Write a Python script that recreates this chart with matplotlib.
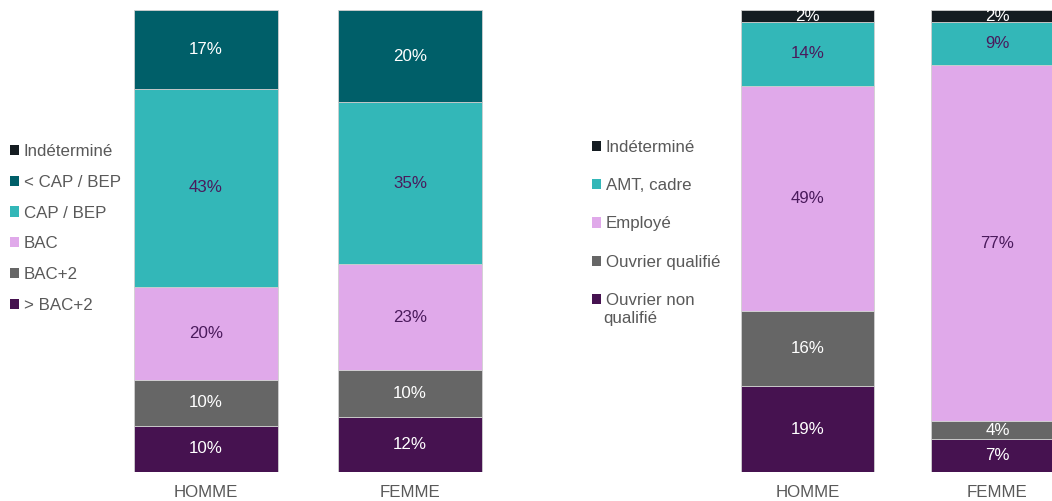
import matplotlib
matplotlib.use("Agg")
import matplotlib.pyplot as plt
from matplotlib.patches import Patch

plt.rcParams['font.family'] = ['Liberation Sans', 'DejaVu Sans']

groups = ["HOMME", "FEMME"]

# Left panel: diplôme
left_cats = ["> BAC+2", "BAC+2", "BAC", "CAP / BEP", "< CAP / BEP", "Indéterminé"]
left_homme = [10, 10, 20, 43, 17, 0]
left_femme = [12, 10, 23, 35, 20, 0]

# Right panel: catégorie socio-professionnelle
right_cats = ["Ouvrier non", "Ouvrier qualifié", "Employé", "AMT, cadre", "Indéterminé"]
right_cat_cont = "qualifié"
right_homme = [18.6, 16.2, 48.8, 13.9, 2.4]
right_femme = [7.1, 3.9, 77.1, 9.4, 2.4]

left_colors = ["#461250", "#666666", "#e0a9ea", "#33b7b8", "#005f69", "#141c21"]
left_textc = ["white", "white", "#4a1a5c", "#4a1a5c", "white", "white"]
right_colors = ["#461250", "#666666", "#e0a9ea", "#33b7b8", "#141c21"]
right_textc = ["white", "white", "#4a1a5c", "#4a1a5c", "white"]

W, H = 1052, 501
fig = plt.figure(figsize=(W / 100, H / 100), dpi=100)

def fx(px):
    return px / W

def fy(py):
    return 1 - py / H

bottom = (H - 472) / H
height = 462 / H
FS = 12.2

def draw(ax, series, colors, textc, width):
    for gi, vals in enumerate(series):
        base = 0
        for ci, v in enumerate(vals):
            if v > 0:
                ax.bar(gi, v, bottom=base, width=width, color=colors[ci],
                       edgecolor="#d0d0d0", linewidth=0.6)
                ax.text(gi, base + v / 2, f"{round(v)}%", ha="center", va="center",
                        fontsize=FS, color=textc[ci])
            base += v
    ax.set_xlim(-0.5, 1.5)
    ax.set_ylim(0, 100)
    ax.set_xticks(range(len(groups)))
    ax.set_xticklabels(groups, fontsize=FS, color="#595959")
    ax.tick_params(axis="x", length=0, pad=9.5)
    ax.set_yticks([])
    for s in ax.spines.values():
        s.set_visible(False)
    ax.patch.set_alpha(0)

axL = fig.add_axes([fx(104), bottom, fx(408), height])
draw(axL, [left_homme, left_femme], left_colors, left_textc, 0.706)

axR = fig.add_axes([fx(712.5), bottom, fx(380), height])
draw(axR, [right_homme, right_femme], right_colors, right_textc, 0.7)

# Legends (top item first)
hl = [Patch(facecolor=c) for c in left_colors][::-1]
fig.legend(hl, left_cats[::-1], loc="upper left",
           bbox_to_anchor=(fx(10), fy(144)), frameon=False,
           fontsize=FS, handlelength=0.55, handleheight=0.55,
           handletextpad=0.25, labelspacing=0.93, borderpad=0,
           borderaxespad=0, labelcolor="#595959")

hr = [Patch(facecolor=c) for c in right_colors][::-1]
fig.legend(hr, right_cats[::-1], loc="upper left",
           bbox_to_anchor=(fx(592), fy(140)), frameon=False,
           fontsize=FS, handlelength=0.55, handleheight=0.55,
           handletextpad=0.25, labelspacing=1.37, borderpad=0,
           borderaxespad=0, labelcolor="#595959")
fig.text(fx(603.5), fy(318), right_cat_cont, fontsize=FS, color="#595959",
         ha="left", va="center")

fig.savefig("out.png", dpi=100)
